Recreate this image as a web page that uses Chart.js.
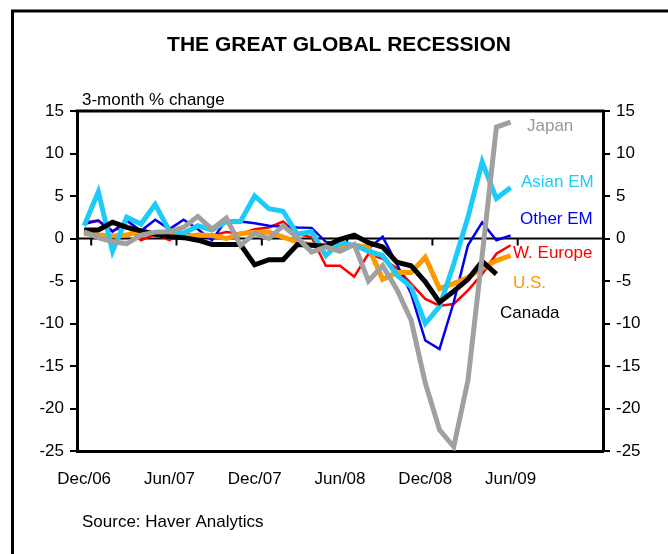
<!DOCTYPE html>
<html>
<head>
<meta charset="utf-8">
<script src="https://cdn.jsdelivr.net/npm/chart.js@4.4.1/dist/chart.umd.min.js"></script>
<style>
  html, body { margin: 0; padding: 0; background: #fff; }
</style>
</head>
<body>
<canvas id="recessionChart" width="668" height="554"></canvas>
<script>
// months on the category axis (Dec/06 .. Dec/09), data runs to Jun/09
const months = [
  'Dec/06','Jan/07','Feb/07','Mar/07','Apr/07','May/07','Jun/07','Jul/07','Aug/07','Sep/07','Oct/07','Nov/07',
  'Dec/07','Jan/08','Feb/08','Mar/08','Apr/08','May/08','Jun/08','Jul/08','Aug/08','Sep/08','Oct/08','Nov/08',
  'Dec/08','Jan/09','Feb/09','Mar/09','Apr/09','May/09','Jun/09','Jul/09','Aug/09','Sep/09','Oct/09','Nov/09','Dec/09'
];
const shownLabels = ['Dec/06','Jun/07','Dec/07','Jun/08','Dec/08','Jun/09'];
const yTicks = [15, 10, 5, 0, -5, -10, -15, -20, -25];

// 3-month % change
const japan = [0.8, 0.1, -0.4, -0.6, 0.4, 0.75, 0.8, 1.3, 2.6, 1.1, 2.4, -0.8, 0.6, 0.0, 1.5, 0.1,
  -1.6, -1.0, -1.5, -0.7, -5.0, -3.2, -6.0, -9.6, -17.0, -22.5, -24.5, -16.7, -2.0, 13.1, 13.7];
const asianEM = [1.5, 5.5, -1.5, 2.5, 1.7, 4.0, 0.9, 0.6, 1.5, 1.0, 2.0, 2.0, 5.0, 3.5, 3.2, 0.5,
  0.8, -2.0, -0.5, -0.8, -1.5, -2.0, -4.3, -5.7, -10.0, -8.0, -3.0, 2.5, 9.0, 4.7, 6.0];
const otherEM = [1.7, 2.1, 0.8, 2.1, 0.9, 2.2, 1.1, 2.2, 1.1, -0.2, 2.2, 2.0, 1.8, 1.5, 1.4, 1.3,
  1.25, -0.4, -0.6, -0.9, -1.2, 0.2, -3.0, -6.5, -12.0, -13.0, -7.5, -0.8, 1.9, -0.2, 0.35];
const wEurope = [1.9, 2.1, 0.9, 1.5, -0.2, 0.5, -0.2, 0.7, 0.15, 0.35, 0.75, 0.55, 1.1, 1.3, 2.0, 0.55,
  0.15, -3.2, -3.2, -4.5, -1.8, -2.4, -3.5, -5.3, -7.1, -7.9, -7.7, -6.1, -4.2, -1.8, -0.8];
const us = [0.6, 0.4, 0.3, 0.4, 0.9, 0.5, 0.4, 0.2, 0.4, 0.35, 0.0, 0.55, 0.75, 0.75, 0.15, -0.4,
  -0.8, -0.8, -1.0, -0.8, -1.0, -4.8, -4.0, -4.0, -2.2, -5.9, -5.3, -4.6, -3.5, -2.6, -2.0];
const canada = [1.0, 1.0, 1.9, 1.3, 0.9, 0.5, 0.2, 0.1, -0.2, -0.7, -0.7, -0.7, -3.1, -2.5, -2.5, -0.7,
  -0.8, -0.9, -0.1, 0.4, -0.5, -1.0, -2.8, -3.2, -5.1, -7.5, -6.2, -4.8, -2.7, -4.2];

const FONT = '"Liberation Sans", Arial, sans-serif';

function line(label, data, color, width) {
  return {
    label: label,
    data: data,
    borderColor: color,
    backgroundColor: color,
    borderWidth: width,
    pointRadius: 0,
    tension: 0,
    fill: false
  };
}

// zero line, tick marks, frame and all the loose text
const decor = {
  id: 'decor',
  beforeDraw(chart) {
    const ctx = chart.ctx;
    ctx.save();
    ctx.fillStyle = '#fff';
    ctx.fillRect(0, 0, chart.width, chart.height);
    ctx.restore();
  },
  beforeDatasetsDraw(chart) {
    const ctx = chart.ctx;
    const area = chart.chartArea;
    const x = chart.scales.x;
    const y0 = chart.scales.y.getPixelForValue(0);
    ctx.save();
    ctx.strokeStyle = '#000';
    ctx.lineWidth = 2;
    ctx.beginPath();
    ctx.moveTo(area.left, y0);
    ctx.lineTo(area.right, y0);
    for (let i = 0; i < months.length - 1; i += 6) {
      const px = (x.getPixelForValue(i) + x.getPixelForValue(i + 1)) / 2;
      ctx.moveTo(px, y0);
      ctx.lineTo(px, y0 + 7);
    }
    ctx.stroke();
    ctx.restore();
  },
  afterDraw(chart) {
    const ctx = chart.ctx;
    const area = chart.chartArea;
    ctx.save();
    ctx.strokeStyle = '#000';
    ctx.lineWidth = 3;
    ctx.beginPath();
    ctx.moveTo(area.left - 1.5, area.top);
    ctx.lineTo(area.right + 1.5, area.top);
    ctx.stroke();

    // outer frame
    ctx.beginPath();
    ctx.moveTo(12.5, chart.height);
    ctx.lineTo(12.5, 11);
    ctx.lineTo(chart.width, 11);
    ctx.stroke();

    ctx.textBaseline = 'middle';
    ctx.fillStyle = '#000';
    ctx.font = 'bold 21px ' + FONT;
    ctx.textAlign = 'center';
    ctx.fillText('THE GREAT GLOBAL RECESSION', 339, 45);

    ctx.textAlign = 'left';
    ctx.font = '17px ' + FONT;
    ctx.fillText('3-month % change', 82, 100);
    ctx.fillText('Source: Haver Analytics', 82, 522);

    const tags = [
      ['Japan', '#999999', 527, 126],
      ['Asian EM', '#1ccbf9', 521, 182],
      ['Other EM', '#0000ee', 520, 219],
      ['W. Europe', '#ff0000', 513, 253],
      ['U.S.', '#ff9900', 513, 283],
      ['Canada', '#000000', 500, 313]
    ];
    tags.forEach(t => {
      ctx.fillStyle = t[1];
      ctx.fillText(t[0], t[2], t[3]);
    });
    ctx.restore();
  }
};

const yAxis = (pos, w) => ({
  position: pos,
  min: -25,
  max: 15,
  afterBuildTicks: s => { s.ticks = yTicks.map(v => ({ value: v })); },
  afterFit: s => { s.width = w; },
  border: { display: true, color: '#000', width: 3 },
  grid: { drawOnChartArea: false, drawTicks: true, tickLength: 7, lineWidth: 2, color: '#000' },
  ticks: { color: '#000', font: { family: FONT, size: 17 }, padding: 6 }
});

new Chart(document.getElementById('recessionChart').getContext('2d'), {
  type: 'line',
  data: {
    labels: months,
    datasets: [
      line('Japan', japan, '#a0a0a0', 5),
      line('Canada', canada, '#000000', 5),
      line('Asian EM', asianEM, '#1ccbf9', 5),
      line('U.S.', us, '#ff9900', 5),
      line('Other EM', otherEM, '#0000ee', 2.5),
      line('W. Europe', wEurope, '#ff0000', 2.5)
    ]
  },
  options: {
    responsive: false,
    animation: false,
    devicePixelRatio: 1,
    layout: { padding: { top: 111, left: 0, right: 0, bottom: 0 } },
    plugins: { legend: { display: false }, tooltip: { enabled: false }, title: { display: false } },
    scales: {
      x: {
        type: 'category',
        offset: true,
        afterFit: s => { s.height = 103; },
        grid: { display: false },
        border: { display: true, color: '#000', width: 3 },
        ticks: {
          autoSkip: false,
          maxRotation: 0,
          minRotation: 0,
          padding: 10,
          color: '#000',
          font: { family: FONT, size: 17 },
          callback: (v, i) => shownLabels.includes(months[i]) ? months[i] : ''
        }
      },
      y: yAxis('left', 77),
      y2: yAxis('right', 65)
    }
  },
  plugins: [decor]
});
</script>
</body>
</html>
